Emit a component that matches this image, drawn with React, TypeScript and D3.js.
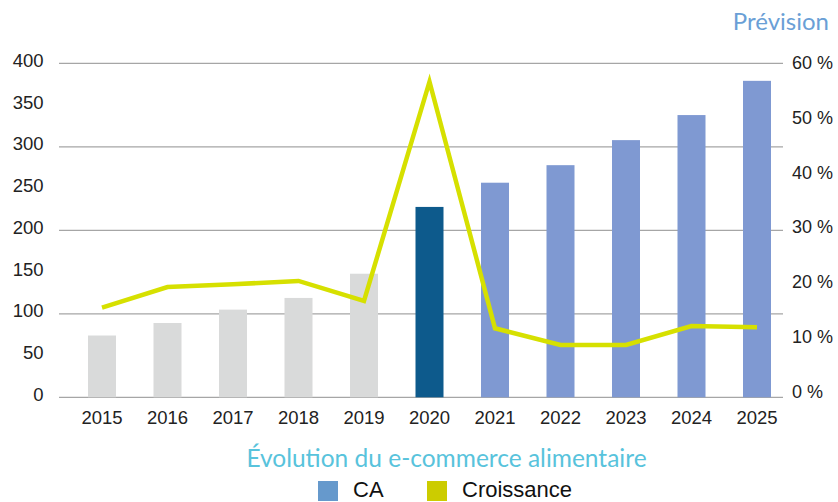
import React from "react";
import * as d3 from "d3";

const years = ["2015","2016","2017","2018","2019","2020","2021","2022","2023","2024","2025"];
const caValues = [74, 89, 105, 119, 148, 228, 257, 278, 308, 338, 379];
const growthValues = [16.1, 19.8, 20.3, 20.9, 17.3, 56.7, 12.4, 9.4, 9.4, 12.8, 12.6];
const barKinds = ["past","past","past","past","past","current","forecast","forecast","forecast","forecast","forecast"];
const leftTicks = [0, 50, 100, 150, 200, 250, 300, 350, 400];
const gridTicks = [0, 100, 200, 300, 400];
const rightTicks = [0, 10, 20, 30, 40, 50, 60];
const title = "Évolution du e-commerce alimentaire";
const forecastLabel = "Prévision";
const legendItems = ["CA", "Croissance"];

const W = 838, H = 502;
const kindColor: Record<string, string> = { past: "#d9dada", current: "#0d5a8c", forecast: "#7f99d2" };
const lineColor = "#d6e000";
const numFont = "'Liberation Sans', Arial, sans-serif";
const titleFont = "Lato, 'Open Sans', sans-serif";

export default function App() {
  const x = d3.scalePoint<string>().domain(years).range([102, 757]);
  const yL = d3.scaleLinear().domain([0, 400]).range([397.3, 63.3]);
  const yR = d3.scaleLinear().domain([0, 60]).range([397.3, 63.3]);
  const yRLabel = d3.scaleLinear().domain([0, 60]).range([391, 62.5]);
  const bw = 28;
  const line = d3.line<number>().x((_, i) => x(years[i])!).y(d => yR(d));
  const legendColors = ["#6699cc", "#cccc00"];
  const legendX = [318, 427];

  return (
    <svg width={W} height={H} style={{ position: "absolute", left: 0, top: 0, background: "#fff" }}>
      {gridTicks.map(t => (
        <line key={t} x1={59} x2={783} y1={yL(t)} y2={yL(t)} stroke="#a6a6a6" strokeWidth={1.2} />
      ))}
      {caValues.map((v, i) => (
        <rect key={years[i]} x={x(years[i])! - bw / 2} y={yL(v)} width={bw} height={yL(0) - yL(v)} fill={kindColor[barKinds[i]]} />
      ))}
      <path d={line(growthValues)!} fill="none" stroke={lineColor} strokeWidth={4.5} strokeLinejoin="miter" />
      {leftTicks.map(t => (
        <text key={t} x={43.5} y={yL(t)} dy={3.5} textAnchor="end" fontFamily={numFont} fontSize={18.5} fill="#222">{t}</text>
      ))}
      {rightTicks.map(t => (
        <text key={t} x={792} y={yRLabel(t)} dy={6.6} textAnchor="start" fontFamily={numFont} fontSize={18} fill="#222">{`${t} %`}</text>
      ))}
      {years.map(yr => (
        <text key={yr} x={x(yr)!} y={424} textAnchor="middle" fontFamily={numFont} fontSize={18.5} fill="#222">{yr}</text>
      ))}
      <text x={829} y={30} textAnchor="end" fontFamily={titleFont} fontSize={24} fill="#6a9fd6">{forecastLabel}</text>
      <text x={446.5} y={467} textAnchor="middle" fontFamily={titleFont} fontSize={24.5} fill="#58c3dc">{title}</text>
      {legendItems.map((item, i) => (
        <g key={item}>
          <rect x={legendX[i]} y={481} width={20} height={20} fill={legendColors[i]} />
          <text x={legendX[i] + 35} y={496.5} fontFamily={numFont} fontSize={22} fill="#111">{item}</text>
        </g>
      ))}
    </svg>
  );
}
